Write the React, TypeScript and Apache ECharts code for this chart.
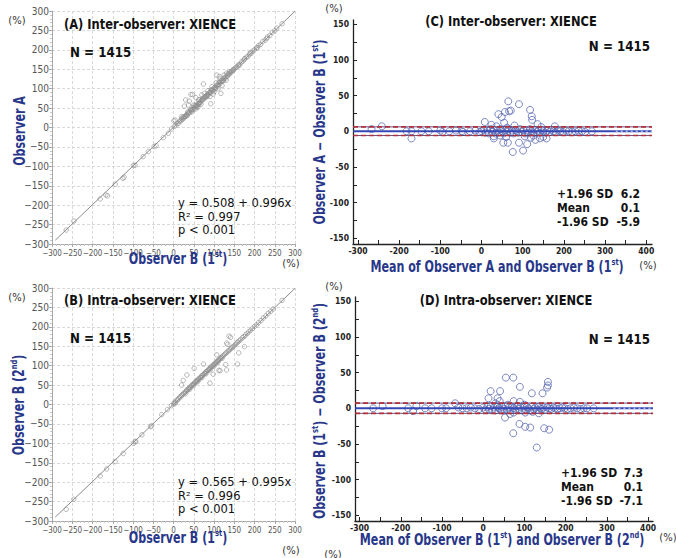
import React, { useEffect, useRef } from "react";
import * as echarts from "echarts";

// ---------- data ----------
// Panel A: x = Observer B (1st), y = Observer A
const interA: [number, number][] = [
  [-265, -264], [-246, -241], [-181, -184], [-167, -174], [-163, -176], [-144, -146], [-125, -131], [-122, -128],
  [-99, -98], [-95, -97], [-75, -75], [-62, -62], [-48, -49], [-43, -47], [-25, -26], [-13, -15], [-5, -4], [4, 19],
  [2, 3], [6, 5], [9, 10], [12, 11], [15, 16], [18, 17], [20, 22], [22, 21], [25, 24], [27, 28], [30, 29], [32, 33],
  [34, 32], [36, 37], [38, 38], [40, 39], [42, 44], [44, 43], [46, 47], [48, 46], [50, 51], [52, 50], [54, 55],
  [56, 57], [58, 56], [60, 61], [62, 60], [64, 65], [66, 64], [68, 69], [70, 70], [72, 73], [74, 72], [76, 77],
  [78, 79], [80, 78], [82, 83], [84, 86], [86, 84], [88, 89], [90, 91], [92, 90], [94, 95], [96, 97], [98, 96],
  [100, 101], [102, 103], [104, 102], [106, 108], [108, 107], [110, 111], [112, 110], [114, 116], [116, 115],
  [118, 119], [120, 121], [122, 120], [124, 125], [126, 128], [128, 127], [130, 131], [133, 132], [136, 137],
  [139, 138], [142, 143], [145, 146], [148, 147], [151, 152], [154, 155], [157, 156], [160, 161], [164, 163],
  [168, 169], [172, 171], [176, 177], [180, 181], [184, 183], [188, 189], [192, 191], [196, 197], [200, 200],
  [205, 205], [210, 211], [215, 214], [220, 221], [226, 225], [232, 233], [238, 237], [244, 245], [250, 249],
  [268, 267], [20, 28], [28, 28], [1, 17], [27, 55], [30, 71], [39, 68], [43, 85], [47, 85], [55, 77], [57, 54],
  [62, 71], [70, 84], [74, 112], [76, 88], [81, 82], [92, 61], [98, 86], [107, 135], [113, 131], [117, 88],
  [120, 108], [131, 140], [138, 143], [142, 143], [35, 40], [45, 40], [50, 58], [55, 48], [60, 52], [65, 72],
  [68, 60], [85, 95], [90, 80], [95, 105], [100, 92], [105, 115], [110, 100], [125, 135], [130, 122], [115, 125],
  [37, 58], [23, 26], [33, 30], [43, 47], [53, 57], [63, 61], [73, 76], [83, 80], [93, 97], [103, 100], [113, 117],
  [123, 121], [135, 138], [147, 149], [162, 160], [175, 176], [190, 193], [207, 206], [230, 229], [255, 256],
];

// Panel B: x = Observer B (1st), y = Observer B (2nd)
const intraB: [number, number][] = [
  [-265, -270], [-246, -244], [-181, -184], [-165, -166], [-144, -147], [-124, -126], [-99, -100], [-95, -96],
  [-93, -95], [-78, -78], [-57, -57], [-54, -55], [-29, -26], [-15, -13], [-5, -3],
  [2, 5], [5, 6], [8, 11], [10, 12], [13, 15], [15, 19], [18, 20], [20, 24], [22, 25], [25, 28], [27, 30], [30, 33],
  [32, 36], [34, 37], [36, 40], [38, 41], [40, 44], [42, 44], [44, 48], [46, 49], [48, 52], [50, 53], [52, 55],
  [54, 58], [56, 58], [58, 62], [60, 63], [62, 66], [64, 66], [66, 70], [68, 70], [70, 74], [72, 75], [74, 77],
  [76, 80], [78, 80], [80, 84], [82, 85], [84, 87], [86, 89], [88, 91], [90, 93], [92, 96], [94, 97], [96, 99],
  [98, 101], [100, 103], [102, 105], [104, 107], [106, 109], [108, 111], [110, 113], [112, 115], [114, 117],
  [116, 119], [118, 121], [120, 123], [123, 126], [126, 129], [129, 132], [132, 134], [135, 138], [138, 140],
  [141, 143], [144, 146], [147, 149], [150, 151], [153, 155], [156, 158], [159, 161], [162, 164], [166, 167],
  [170, 172], [174, 175], [178, 179], [182, 183], [186, 187], [190, 191], [195, 196], [200, 201], [205, 205],
  [210, 211], [216, 216], [222, 223], [228, 228], [234, 235], [240, 240], [246, 246], [268, 268], [0, 1], [3, 2],
  [30, 28], [40, 39], [50, 49], [60, 59], [70, 69], [80, 79], [90, 89], [100, 99], [110, 109], [120, 119],
  [137, 176], [141, 173], [161, 133], [158, 104], [134, 155], [175, 149], [131, 158], [129, 103], [107, 128],
  [115, 87], [112, 88], [90, 55], [98, 78], [74, 104], [51, 93], [33, 76], [24, 62], [20, 50], [131, 89],
];

// Panel C: x = mean of A and B(1st), y = A - B(1st)
const baInter: [number, number][] = [
  [-267, 3], [-242, 7], [-182, 0], [-170, 0], [-170, -10], [-146, 0], [-128, 0], [-100, 1], [-95, -1], [-78, 0],
  [-62, 1], [-48, 0], [-45, -1], [-28, 0], [-15, 1], [-5, -1],
  [0, 0], [5, 2], [10, -2], [14, 1], [18, -3], [22, 3], [26, -1], [30, 2], [34, -3], [38, 1], [42, -2], [46, 3],
  [50, 0], [54, -3], [58, 2], [62, -1], [66, 3], [70, -2], [74, 1], [78, -3], [82, 2], [86, 0], [90, -2], [94, 3],
  [98, -1], [102, 2], [106, -3], [110, 1], [114, -2], [118, 3], [122, 0], [126, -2], [130, 2], [134, -1],
  [138, 1], [142, -2], [146, 2], [150, 0], [155, -2], [160, 1], [165, -1], [170, 2], [175, 0], [180, -1],
  [186, 1], [192, 0], [198, -1], [205, 1], [212, 0], [220, -1], [228, 0], [236, 1], [244, 0], [252, -1], [268, 0],
  [8, 13], [24, 9], [41, 24], [49, 20], [65, 42], [57, 27], [67, 28], [71, 29], [91, 38], [118, 30], [122, 21],
  [123, 16], [136, 10], [178, 7], [30, -7], [30, -10], [53, -16], [64, -16], [76, -29], [91, -16], [101, -27],
  [111, -18], [120, -9], [131, -12], [158, -10], [142, -10], [36, 7], [55, 12], [60, -8], [80, 8], [45, -6],
  [62, 5], [105, -7], [145, 6], [150, -8], [126, -6],
];

// Panel D: x = mean of B(1st) and B(2nd), y = B(1st) - B(2nd)
const baIntra: [number, number][] = [
  [-267, 0], [-244, 3], [-182, 0], [-170, -4], [-162, 3], [-141, 0], [-125, 0], [-100, 0], [-90, 0], [-68, 7],
  [-60, 1], [-50, 0], [-40, 0], [-30, 1], [-20, 0], [-10, -1],
  [0, 1], [5, -2], [10, 2], [14, -1], [18, 3], [22, -2], [26, 1], [30, -3], [34, 2], [38, 0], [42, -2], [46, 2],
  [50, -1], [54, 3], [58, -2], [62, 1], [66, -3], [70, 2], [74, 0], [78, -2], [82, 3], [86, -1], [90, 2],
  [94, -3], [98, 1], [102, -2], [106, 2], [110, 0], [114, -3], [118, 2], [122, -1], [126, 1], [130, -2],
  [134, 2], [138, 0], [142, -1], [146, 1], [150, -2], [155, 1], [160, 0], [165, -1], [170, 1], [175, 0],
  [180, -1], [186, 0], [192, 1], [198, 0], [205, -1], [212, 0], [220, 1], [228, 0], [236, -1], [244, 0],
  [252, 0], [268, 0],
  [13, 14], [18, 24], [35, 14], [41, 24], [55, 43], [73, 43], [89, 30], [118, 21], [144, 21], [157, 37],
  [157, 32], [155, 29], [74, 10], [89, 9], [53, -13], [88, -22], [102, -26], [114, -27], [73, -35], [148, -28],
  [160, -30], [130, -55], [102, -6], [74, -6], [30, 7], [40, 10], [60, 5], [100, 5], [120, -5], [135, -7],
  [45, -3], [65, -8],
];

// regression: [intercept, slope]
const regInter = [0.508, 0.996];
const regIntra = [0.565, 0.995];
// Bland-Altman: [+1.96 SD, mean, -1.96 SD]
const limitsInter = [6.2, 0.1, -5.9];
const limitsIntra = [7.3, 0.1, -7.1];
const nObs = 1415;

const baXLabels = [-300, -200, -100, 0, 100, 200, 300, 400];
const baXTicks = [-300, -250, -200, -150, -100, -50, 0, 50, 100, 150, 200, 250, 300, 350, 400];
const baYLabels = [-150, -100, -50, 0, 50, 100, 150];
const baYTicks = [-150, -125, -100, -75, -50, -25, 0, 25, 50, 75, 100, 125, 150];

// ---------- styles ----------
const NAVY = "#28378a";
const FONT = "'DejaVu Sans', Verdana, sans-serif";
const NARROW = "'Liberation Sans Narrow', 'DejaVu Sans Condensed', 'Liberation Sans', sans-serif";
const TS = 0.74; // horizontal squeeze for bold navy titles
const PS = 0.85; // horizontal squeeze for panel titles

const minus = (v: number) => (v < 0 ? "\u2212" + Math.abs(v) : String(v));

function scatterAxis(gridIndex: number, isX: boolean) {
  return {
    type: "value",
    gridIndex,
    min: -300,
    max: 300,
    interval: 50,
    axisLine: { show: true, onZero: false, lineStyle: { color: "#a8a8a8" } },
    axisTick: { show: true, length: 3, lineStyle: { color: "#a8a8a8" } },
    minorTick: { show: true, splitNumber: 5, length: 2, lineStyle: { color: "#c8c8c8" } },
    splitLine: { show: true, lineStyle: { color: "#d9d9d9", type: [3, 2] } },
    axisLabel: {
      formatter: minus,
      fontSize: isX ? 8 : 10,
      color: "#555",
      fontFamily: NARROW,
      margin: isX ? 5 : 3,
      hideOverlap: false,
      showMinLabel: true,
      showMaxLabel: true,
    },
  };
}

function baX(gridIndex: number, min: number, max: number) {
  return {
    type: "value",
    gridIndex,
    min,
    max,
    axisLine: { show: true, onZero: false, lineStyle: { color: "#222", width: 1.3 } },
    axisTick: { show: true, inside: true, length: 4, customValues: baXTicks, lineStyle: { color: "#222" } },
    splitLine: { show: false },
    axisLabel: {
      customValues: baXLabels,
      fontSize: 8.5,
      fontWeight: "bold",
      color: "#222",
      fontFamily: NARROW,
      margin: 2,
    },
  };
}
function baY(gridIndex: number) {
  return {
    type: "value",
    gridIndex,
    min: -158,
    max: 156,
    axisLine: { show: true, onZero: false, lineStyle: { color: "#222", width: 1.3 } },
    axisTick: { show: true, inside: true, length: 4, customValues: baYTicks, lineStyle: { color: "#222" } },
    splitLine: { show: false },
    axisLabel: {
      customValues: baYLabels,
      fontSize: 8.5,
      fontWeight: "bold",
      color: "#222",
      fontFamily: NARROW,
      margin: 4,
    },
  };
}

function txt(
  x: number,
  y: number,
  text: string,
  o: { size?: number; bold?: boolean; color?: string; align?: string; sx?: number; rot?: number; rich?: any } = {}
) {
  return {
    type: "text",
    x,
    y,
    scaleX: o.sx ?? 1,
    rotation: o.rot ?? 0,
    silent: true,
    z: 100,
    style: {
      text,
      fill: o.color ?? "#111",
      fontSize: o.size ?? 12,
      fontWeight: o.bold ? "bold" : "normal",
      fontFamily: FONT,
      align: o.align ?? "left",
      verticalAlign: "middle",
      rich: o.rich,
    },
  };
}

const navyRich = {
  b: { fontSize: 15, fontWeight: "bold", fill: NAVY, fontFamily: FONT, lineHeight: 18 },
  s: { fontSize: 9, fontWeight: "bold", fill: NAVY, fontFamily: FONT, verticalAlign: "top", lineHeight: 18 },
};
const navyTitle = (x: number, y: number, text: string, rot = 0) =>
  txt(x, y, text, { align: "center", sx: TS, rot, rich: navyRich, color: NAVY, bold: true, size: 15 });

function regLine(reg: number[], x0: number, x1: number) {
  return [
    [x0, reg[0] + reg[1] * x0],
    [x1, reg[0] + reg[1] * x1],
  ];
}

function baSeries(idx: number, data: [number, number][], lim: number[], xmin: number, xmax: number, solidEnd: number) {
  const hline = (y: number, a: number, b: number) => [
    [a, y],
    [b, y],
  ];
  return [
    {
      type: "scatter",
      xAxisIndex: idx,
      yAxisIndex: idx,
      data,
      symbol: "circle",
      symbolSize: 7,
      itemStyle: { color: "rgba(255,255,255,0)", borderColor: "#5b69b3", borderWidth: 1 },
      z: 2,
    },
    ...[lim[0], lim[2]].flatMap((v) => [
      {
        type: "line",
        xAxisIndex: idx,
        yAxisIndex: idx,
        data: hline(v, xmin, xmax),
        symbol: "none",
        lineStyle: { color: "#34306e", width: 0.8 },
        z: 3,
      },
      {
        type: "line",
        xAxisIndex: idx,
        yAxisIndex: idx,
        data: hline(v, xmin, xmax),
        symbol: "none",
        lineStyle: { color: "#b0303c", width: 1.6, type: [5, 3] },
        z: 4,
      },
    ]),
    {
      type: "line",
      xAxisIndex: idx,
      yAxisIndex: idx,
      data: hline(lim[1], xmin, xmax),
      symbol: "none",
      lineStyle: { color: "#3447b4", width: 2 },
      z: 5,
    },
    {
      type: "line",
      xAxisIndex: idx,
      yAxisIndex: idx,
      data: hline(lim[1], solidEnd, xmax),
      symbol: "none",
      lineStyle: { color: "#dfe3f5", width: 1, type: [2, 3] },
      z: 6,
    },
  ];
}

export default function App() {
  const ref = useRef<HTMLDivElement>(null);
  useEffect(() => {
    if (!ref.current) return;
    const chart = echarts.init(ref.current, undefined, { renderer: "svg" });
    const statsBlock = (lim: number[], lx: number, rx: number, y0: number, dy: number) => {
      const labels = ["+1.96 SD", "Mean", "-1.96 SD"];
      const out: any[] = [];
      labels.forEach((l, i) => {
        out.push(txt(lx, y0 + i * dy, l, { bold: true, size: 12, sx: 0.9 }));
        out.push(txt(rx, y0 + i * dy, lim[i].toFixed(1), { bold: true, size: 12, sx: 0.9, align: "right" }));
      });
      return out;
    };
    const regBlock = (reg: number[], r2: string, x: number, y0: number) => [
      txt(x, y0, `y = ${reg[0].toFixed(3)} + ${reg[1].toFixed(3)}x`, { size: 11.5 }),
      txt(x, y0 + 13.5, `R\u00b2 = ${r2}`, { size: 11.5 }),
      txt(x, y0 + 27, "p < 0.001", { size: 11.5 }),
    ];
    const scatterStyle = { color: "rgba(255,255,255,0)", borderColor: "#8e8e8e", borderWidth: 0.8 };

    const option: any = {
      animation: false,
      backgroundColor: "#fff",
      grid: [
        { left: 52, top: 11, width: 243, height: 233 },
        { left: 52, top: 288, width: 243, height: 233 },
        { left: 353, top: 20, width: 299, height: 224 },
        { left: 355, top: 297, width: 298, height: 224 },
      ],
      xAxis: [scatterAxis(0, true), scatterAxis(1, true), baX(2, -312, 414), baX(3, -311, 412)],
      yAxis: [scatterAxis(0, false), scatterAxis(1, false), baY(2), baY(3)],
      series: [
        { type: "scatter", xAxisIndex: 0, yAxisIndex: 0, data: interA, symbolSize: 4.5, itemStyle: scatterStyle },
        {
          type: "line",
          xAxisIndex: 0,
          yAxisIndex: 0,
          data: regLine(regInter, -292, 300),
          symbol: "none",
          lineStyle: { color: "#8a8a8a", width: 1 },
          z: 3,
        },
        { type: "scatter", xAxisIndex: 1, yAxisIndex: 1, data: intraB, symbolSize: 4.5, itemStyle: scatterStyle },
        {
          type: "line",
          xAxisIndex: 1,
          yAxisIndex: 1,
          data: regLine(regIntra, -292, 300),
          symbol: "none",
          lineStyle: { color: "#8a8a8a", width: 1 },
          z: 3,
        },
        ...baSeries(2, baInter, limitsInter, -312, 414, 326),
        ...baSeries(3, baIntra, limitsIntra, -311, 412, 316),
      ],
      graphic: [
        // Panel A
        txt(17, 20, "(%)", { size: 10, color: "#333", align: "center" }),
        txt(64, 24, "(A) Inter-observer: XIENCE", { bold: true, size: 13.5, sx: PS }),
        txt(70, 52, `N = ${nObs}`, { bold: true, size: 13.5, sx: 0.88 }),
        ...regBlock(regInter, "0.997", 178, 203),
        navyTitle(178, 259, "{b|Observer B (1}{s|st}{b|)}"),
        txt(291, 263, "(%)", { size: 10, color: "#333", align: "center" }),
        navyTitle(20, 131, "{b|Observer A}", Math.PI / 2),
        // Panel B
        txt(17, 297, "(%)", { size: 10, color: "#333", align: "center" }),
        txt(64, 300, "(B) Intra-observer: XIENCE", { bold: true, size: 13.5, sx: PS }),
        txt(70, 338, `N = ${nObs}`, { bold: true, size: 13.5, sx: 0.88 }),
        ...regBlock(regIntra, "0.996", 178, 482),
        navyTitle(178, 538, "{b|Observer B (1}{s|st}{b|)}"),
        txt(291, 550, "(%)", { size: 10, color: "#333", align: "center" }),
        navyTitle(19, 405, "{b|Observer B (2}{s|nd}{b|)}", Math.PI / 2),
        // Panel C
        txt(334, 8, "(%)", { size: 10, color: "#333", align: "center" }),
        txt(511, 21, "(C) Inter-observer: XIENCE", { bold: true, size: 13.5, sx: PS, align: "center" }),
        txt(650, 46, `N = ${nObs}`, { bold: true, size: 13.5, sx: 0.88, align: "right" }),
        ...statsBlock(limitsInter, 557, 640, 194, 14),
        navyTitle(497, 267, "{b|Mean of Observer A and Observer B (1}{s|st}{b|)}"),
        txt(648, 265, "(%)", { size: 10, color: "#333", align: "center" }),
        navyTitle(320, 132, "{b|Observer A \u2212 Observer B (1}{s|st}{b|)}", Math.PI / 2),
        // Panel D
        txt(334, 286, "(%)", { size: 10, color: "#333", align: "center" }),
        txt(506, 300, "(D) Intra-observer: XIENCE", { bold: true, size: 13.5, sx: PS, align: "center" }),
        txt(650, 339, `N = ${nObs}`, { bold: true, size: 13.5, sx: 0.88, align: "right" }),
        ...statsBlock(limitsIntra, 561, 643, 473, 14),
        navyTitle(502, 540, "{b|Mean of Observer B (1}{s|st}{b|) and Observer B (2}{s|nd}{b|)}"),
        txt(668, 537, "(%)", { size: 10, color: "#333", align: "center" }),
        txt(333, 554, "(%)", { size: 10, color: "#333", align: "center" }),
        navyTitle(320, 411, "{b|Observer B (1}{s|st}{b|) \u2212 Observer B (2}{s|nd}{b|)}", Math.PI / 2),
      ],
    };
    chart.setOption(option);
    return () => chart.dispose();
  }, []);
  return <div ref={ref} style={{ width: 676, height: 558, position: "absolute", left: 0, top: 0 }} />;
}
